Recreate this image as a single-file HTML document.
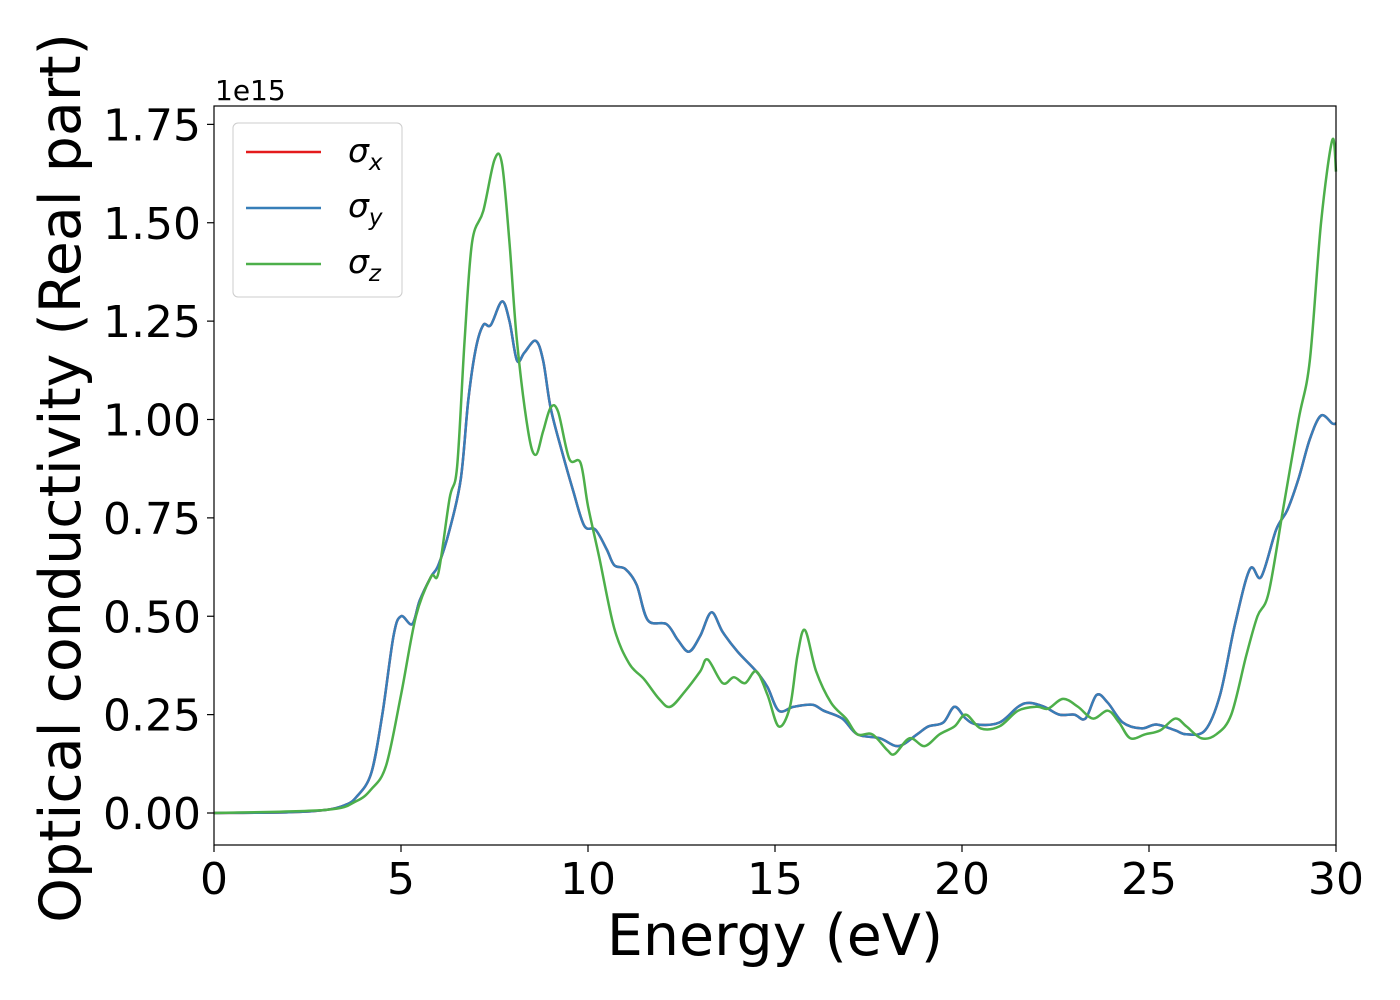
<!DOCTYPE html>
<html><head><meta charset="utf-8"><style>
body{margin:0;background:#fff}
svg{font-family:"DejaVu Sans","Liberation Sans",sans-serif;display:block}
</style></head><body>
<svg id="chart" width="1400" height="1000" viewBox="0 0 1400 1000">
<rect x="0" y="0" width="1400" height="1000" fill="#fff"/>
<g id="ticks"></g>
<g id="lines"></g>
<rect x="214" y="106" width="1122" height="739" fill="none" stroke="#000" stroke-width="1.2"/>
<text x="215" y="100" font-size="28">1e15</text>
<text x="775" y="955" font-size="57" text-anchor="middle">Energy (eV)</text>
<text transform="translate(80,478) rotate(-90)" font-size="57" text-anchor="middle">Optical conductivity (Real part)</text>
<g>
<rect x="233" y="123" width="169" height="174" rx="5" fill="#fff" fill-opacity="0.8" stroke="#ccc"/>
<line x1="246" y1="152" x2="321" y2="152" stroke="#e41a1c" stroke-width="2.5"/>
<text x="348" y="162" font-size="33" font-style="italic">σ<tspan font-size="23" dy="8">x</tspan></text>
<line x1="246" y1="208" x2="321" y2="208" stroke="#377eb8" stroke-width="2.5"/>
<text x="348" y="217" font-size="33" font-style="italic">σ<tspan font-size="23" dy="8">y</tspan></text>
<line x1="246" y1="264" x2="321" y2="264" stroke="#4daf4a" stroke-width="2.5"/>
<text x="348" y="273" font-size="33" font-style="italic">σ<tspan font-size="23" dy="8">z</tspan></text>
</g>
</svg>
<script>
const xyE=[0,2,3,3.5,3.8,4.2,4.5,4.8,5.0,5.3,5.5,5.8,6.0,6.3,6.6,6.8,7.0,7.2,7.4,7.7,7.9,8.1,8.3,8.6,8.8,9.0,9.3,9.6,9.9,10.2,10.5,10.7,11.0,11.3,11.6,12.1,12.4,12.7,13.0,13.3,13.6,14.0,14.5,14.8,15.1,15.5,16.0,16.3,16.8,17.2,17.8,18.3,18.8,19.1,19.5,19.8,20.1,20.4,21.0,21.5,21.8,22.2,22.6,23.0,23.3,23.6,23.9,24.3,24.8,25.2,25.7,26.0,26.5,26.9,27.3,27.7,28.0,28.4,28.7,29.0,29.3,29.6,29.9,30];
const xyVal=[0,0.002,0.008,0.02,0.04,0.1,0.25,0.45,0.5,0.48,0.54,0.6,0.63,0.72,0.85,1.05,1.18,1.24,1.24,1.3,1.25,1.15,1.17,1.2,1.15,1.03,0.92,0.82,0.73,0.72,0.67,0.63,0.62,0.58,0.49,0.48,0.44,0.41,0.45,0.51,0.46,0.41,0.36,0.32,0.26,0.27,0.275,0.26,0.24,0.2,0.19,0.17,0.2,0.22,0.23,0.27,0.24,0.225,0.23,0.27,0.28,0.27,0.25,0.25,0.24,0.3,0.28,0.23,0.215,0.225,0.21,0.2,0.21,0.3,0.48,0.62,0.6,0.72,0.77,0.85,0.95,1.01,0.99,0.99];
const zE=[0,3,3.8,4.2,4.6,5.0,5.4,5.8,6.0,6.3,6.5,6.7,6.9,7.2,7.5,7.7,7.9,8.1,8.4,8.6,8.8,9.0,9.2,9.5,9.8,10.0,10.3,10.7,11.1,11.5,11.9,12.2,12.6,13.0,13.2,13.6,13.9,14.2,14.5,14.8,15.1,15.4,15.6,15.8,16.1,16.5,16.9,17.2,17.6,18.0,18.2,18.6,19.0,19.4,19.8,20.1,20.5,21.0,21.5,22.0,22.3,22.7,23.1,23.5,23.9,24.2,24.5,24.9,25.3,25.7,26.0,26.4,26.8,27.2,27.6,27.9,28.2,28.6,29.0,29.3,29.6,29.9,30];
const zVal=[0,0.008,0.03,0.06,0.12,0.3,0.5,0.6,0.61,0.8,0.88,1.2,1.45,1.53,1.66,1.65,1.45,1.2,0.97,0.91,0.97,1.03,1.02,0.9,0.89,0.78,0.65,0.47,0.38,0.34,0.29,0.27,0.31,0.36,0.39,0.33,0.345,0.33,0.36,0.3,0.22,0.27,0.4,0.465,0.36,0.28,0.24,0.2,0.2,0.16,0.15,0.19,0.17,0.2,0.22,0.25,0.215,0.22,0.26,0.27,0.265,0.29,0.27,0.24,0.26,0.23,0.19,0.2,0.21,0.24,0.22,0.19,0.2,0.25,0.4,0.5,0.56,0.78,1.0,1.15,1.5,1.71,1.63];
const xTicks=[0,5,10,15,20,25,30];
const yTicks=[0,0.25,0.5,0.75,1.0,1.25,1.5,1.75];
const xs=v=>214+v*(1122/30);
const ys=v=>813-v*393.5;
const NS='http://www.w3.org/2000/svg';
const tg=document.getElementById('ticks'), lg=document.getElementById('lines');
function mk(tag,attrs,parent){const e=document.createElementNS(NS,tag);for(const k in attrs)e.setAttribute(k,attrs[k]);parent.appendChild(e);return e;}
xTicks.forEach(t=>{
 const l=mk('line',{x1:xs(t),x2:xs(t),y1:845,y2:852,stroke:'#000','stroke-width':1.2},tg);
 
 
 const tx=mk('text',{x:xs(t),y:894,'font-size':44,'text-anchor':'middle'},tg);tx.textContent=t;
 
 
});
yTicks.forEach(t=>{
 const l=mk('line',{x1:207,x2:214,y1:ys(t),y2:ys(t),stroke:'#000','stroke-width':1.2},tg);
 
 
 const tx=mk('text',{x:201,y:ys(t)+16,'font-size':44,'text-anchor':'end'},tg);tx.textContent=t.toFixed(2);
 
 
});
function pathFor(E,V){
 const p=E.map((e,i)=>[xs(e),ys(V[i])]);
 let d='M'+p[0][0]+','+p[0][1];
 for(let i=0;i<p.length-1;i++){
  const p0=p[Math.max(0,i-1)],p1=p[i],p2=p[i+1],p3=p[Math.min(p.length-1,i+2)];
  const c1=[p1[0]+(p2[0]-p0[0])/6,p1[1]+(p2[1]-p0[1])/6];
  const c2=[p2[0]-(p3[0]-p1[0])/6,p2[1]-(p3[1]-p1[1])/6];
  d+=`C${c1[0]},${c1[1]} ${c2[0]},${c2[1]} ${p2[0]},${p2[1]}`;
 }
 return d;
}
const sx=mk('path',{d:pathFor(xyE,xyVal),fill:'none',stroke:'#e41a1c','stroke-width':2.5},lg);


const sy=mk('path',{d:pathFor(xyE,xyVal),fill:'none',stroke:'#377eb8','stroke-width':2.5},lg);


const sz=mk('path',{d:pathFor(zE,zVal),fill:'none',stroke:'#4daf4a','stroke-width':2.5},lg);


</script>
</body></html>
